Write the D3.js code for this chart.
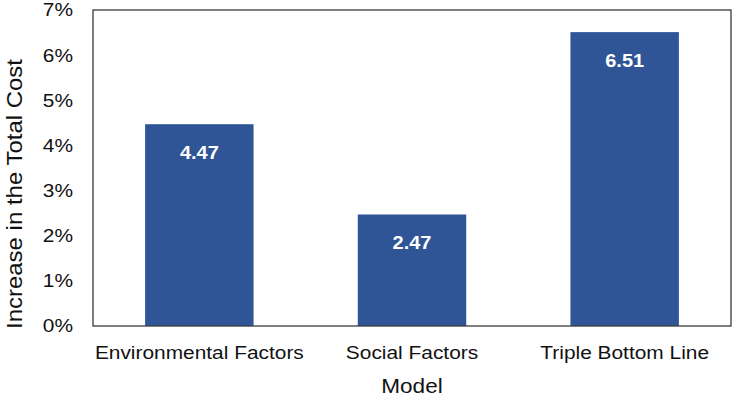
<html>
<head>
  <script src="https://cdn.jsdelivr.net/npm/d3@7"></script>
  <style>
    body { margin: 0; background: #fff; }
    text { font-family: "Liberation Sans", Arial, sans-serif; }
  </style>
</head>
<body>
<script>
  // Data
  const models = ["Environmental Factors", "Social Factors", "Triple Bottom Line"];
  const increase = [4.47, 2.47, 6.51];
  const yTicks = [0, 1, 2, 3, 4, 5, 6, 7];

  const w = 735, h = 399;
  const margin = { top: 10, right: 4, bottom: 73, left: 93 };
  const stretch = 1.13; // the source text is a bit wider than Arial

  const svg = d3.select("body").append("svg")
    .attr("width", w)
    .attr("height", h);

  const xScale = d3.scaleBand()
    .domain(models)
    .range([margin.left, w - margin.right])
    .paddingInner(0.49)
    .paddingOuter(0.245);

  const yScale = d3.scaleLinear()
    .domain([0, 7])
    .range([h - margin.bottom, margin.top]);

  // Bars
  svg.selectAll("rect.bar")
    .data(models)
    .enter()
    .append("rect")
    .attr("class", "bar")
    .attr("x", d => xScale(d))
    .attr("width", xScale.bandwidth())
    .attr("y", (d, i) => yScale(increase[i]))
    .attr("height", (d, i) => yScale(0) - yScale(increase[i]))
    .attr("fill", "#2F5597");

  // Value labels
  svg.selectAll("text.val")
    .data(models)
    .enter()
    .append("text")
    .attr("class", "val")
    .attr("transform", (d, i) => "translate(" + (xScale(d) + xScale.bandwidth() / 2) + "," + (yScale(increase[i]) + 35) + ") scale(1.08,1)")
    .attr("text-anchor", "middle")
    .attr("fill", "#fff")
    .attr("font-weight", "bold")
    .attr("font-size", 18.5)
    .text((d, i) => increase[i].toFixed(2));

  // Plot frame
  svg.append("rect")
    .attr("x", margin.left)
    .attr("y", margin.top)
    .attr("width", w - margin.left - margin.right)
    .attr("height", h - margin.top - margin.bottom)
    .attr("fill", "none")
    .attr("stroke", "#3a3a3a")
    .attr("stroke-width", 1.3);

  // Y axis
  const yAxis = d3.axisLeft(yScale)
    .tickValues(yTicks)
    .tickSize(0)
    .tickFormat(d => d + "%");

  const gy = svg.append("g")
    .attr("transform", "translate(" + margin.left + ",0)")
    .call(yAxis);
  gy.select(".domain").remove();
  gy.selectAll("text")
    .attr("x", 0)
    .attr("transform", "translate(-20,0) scale(" + stretch + ",1)")
    .attr("font-size", 18.5)
    .attr("fill", "#111")
    .style("font-family", "Liberation Sans, Arial, sans-serif");

  // X axis
  const xAxis = d3.axisBottom(xScale).tickSize(0).tickPadding(20);
  const gx = svg.append("g")
    .attr("transform", "translate(0," + (h - margin.bottom) + ")")
    .call(xAxis);
  gx.select(".domain").remove();
  gx.selectAll("text")
    .attr("transform", "scale(" + stretch + ",1)")
    .attr("font-size", 18.5)
    .attr("fill", "#111")
    .style("font-family", "Liberation Sans, Arial, sans-serif");

  // Axis titles
  svg.append("text")
    .attr("transform", "translate(" + ((margin.left + w - margin.right) / 2) + ",393) scale(1.1,1)")
    .attr("text-anchor", "middle")
    .attr("font-size", 20.5)
    .attr("fill", "#111")
    .text("Model");

  svg.append("text")
    .attr("transform", "translate(22,194) rotate(-90) scale(1.09,1)")
    .attr("text-anchor", "middle")
    .attr("font-size", 22)
    .attr("fill", "#111")
    .text("Increase in the Total Cost");
</script>
</body>
</html>
